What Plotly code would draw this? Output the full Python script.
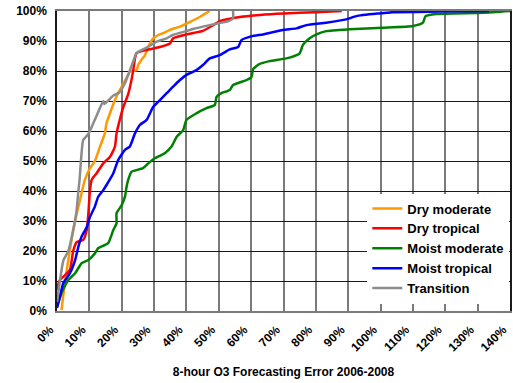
import plotly.graph_objects as go

# Cumulative share of forecasts (%) vs. absolute 8-hour O3 forecast error (%)
dry_moderate_x = [1.4, 2.5, 3.5, 4.5, 5.6, 7.1, 8.6, 10.2, 11.7, 13.3, 14.8, 15.3, 16.4, 17.9, 18.9,
                  20.0, 22.0, 22.5, 24.6, 25.1, 26.1, 27.2, 28.2, 29.7, 31.3, 32.8, 34.9, 38.0, 41.0,
                  44.1, 47.2]
dry_moderate_y = [0.3, 10.0, 17.0, 23.7, 30.0, 37.0, 43.7, 47.6, 50.0, 54.8, 59.3, 62.6, 66.0, 70.3, 72.6,
                  74.8, 78.7, 79.8, 80.3, 82.0, 83.7, 85.3, 88.0, 90.9, 92.0, 92.6, 93.7, 94.8, 96.3,
                  98.0, 100.0]

dry_tropical_x = [0.2, 0.4, 0.9, 2.5, 4.0, 5.0, 6.1, 8.1, 9.2, 9.7, 10.2, 10.7, 12.3, 14.3, 16.4, 17.9,
                  18.4, 19.4, 20.5, 22.0, 23.5, 24.1, 24.6, 27.7, 31.8, 34.9, 35.9, 40.0, 45.1, 48.3,
                  50.3, 53.4, 56.5, 62.7, 70.0, 80.0, 88.0]
dry_tropical_y = [7.0, 9.0, 10.3, 12.0, 13.7, 20.0, 23.0, 23.7, 27.0, 32.6, 40.3, 43.7, 46.0, 49.2, 51.4,
                  54.8, 59.2, 63.7, 68.0, 72.3, 79.8, 84.2, 86.0, 87.0, 88.0, 89.2, 90.9, 92.2, 93.4,
                  95.3, 96.6, 97.4, 98.0, 98.7, 99.2, 99.6, 100.0]

moist_moderate_x = [0.0, 1.4, 3.5, 5.6, 7.6, 9.7, 11.7, 12.7, 15.8, 17.4, 18.4, 18.4, 20.0, 21.0, 21.5,
                    22.0, 23.0, 26.6, 28.2, 30.2, 33.3, 35.4, 37.0, 39.0, 40.0, 43.1, 46.2, 48.8, 49.3,
                    50.8, 53.4, 54.4, 58.6, 60.1, 60.6, 62.5, 65.7, 70.9, 75.0, 76.0, 78.1, 80.2, 83.2,
                    90.4, 100.7, 110.0, 113.1, 113.9, 117.2, 131.6, 140.0]
moist_moderate_y = [1.4, 5.9, 10.3, 12.6, 15.9, 17.0, 19.2, 20.9, 22.6, 27.0, 29.2, 32.6, 35.3, 38.1, 41.4,
                    43.7, 46.4, 47.6, 49.2, 50.9, 52.6, 54.8, 58.1, 60.3, 63.7, 65.9, 67.6, 68.7, 71.4,
                    72.6, 73.7, 75.3, 77.0, 78.0, 80.6, 82.3, 83.3, 84.2, 85.9, 88.7, 90.9, 92.2, 93.3,
                    93.9, 94.4, 95.0, 96.1, 98.3, 99.0, 99.4, 100.0]

moist_tropical_x = [0.0, 0.9, 1.9, 4.0, 5.6, 6.6, 7.6, 9.2, 10.2, 11.7, 12.7, 14.3, 15.3, 17.4, 18.9,
                    21.0, 22.5, 24.1, 25.6, 27.7, 29.7, 31.8, 33.9, 35.9, 38.0, 40.0, 43.1, 45.1, 47.2,
                    50.3, 53.4, 56.0, 57.0, 60.6, 63.7, 69.8, 74.0, 77.1, 83.2, 89.4, 92.5, 99.7, 103.7,
                    118.0, 133.6]
moist_tropical_y = [1.0, 4.8, 9.2, 12.6, 17.0, 21.4, 24.8, 28.0, 31.4, 34.8, 38.0, 40.3, 42.0, 45.9, 50.3,
                    53.7, 54.8, 59.2, 62.0, 63.7, 68.0, 70.3, 72.6, 74.8, 77.0, 78.7, 80.3, 82.0, 84.2,
                    85.3, 87.2, 88.0, 90.3, 91.7, 92.2, 93.7, 94.2, 95.3, 96.1, 97.2, 98.3, 99.2, 99.6,
                    99.8, 100.0]

transition_x = [0.0, 0.9, 2.0, 3.5, 5.0, 6.0, 6.6, 7.0, 7.4, 8.1, 9.7, 12.2, 14.3, 14.6, 17.4, 19.4,
                21.0, 23.5, 24.6, 27.7, 30.8, 33.9, 35.8, 40.0, 42.0, 47.2, 53.0, 54.4, 54.4]
transition_y = [3.0, 10.0, 17.0, 20.0, 27.0, 33.0, 40.0, 44.0, 50.0, 57.0, 59.0, 65.0, 70.0, 69.0, 71.8,
                73.0, 76.0, 83.0, 86.0, 87.8, 89.8, 90.9, 92.0, 93.3, 94.0, 95.3, 96.6, 97.5, 100.0]

x_ticks = list(range(0, 141, 10))
x_tick_labels = [f"{v}%" for v in x_ticks]
y_ticks = list(range(0, 101, 10))
y_tick_labels = [f"{v}%" for v in y_ticks]

series = [
    ("Dry moderate", dry_moderate_x, dry_moderate_y, "#FF9900"),
    ("Dry tropical", dry_tropical_x, dry_tropical_y, "#FF0000"),
    ("Moist moderate", moist_moderate_x, moist_moderate_y, "#008000"),
    ("Moist tropical", moist_tropical_x, moist_tropical_y, "#0000FF"),
    ("Transition", transition_x, transition_y, "#8C8C8C"),
]

fig = go.Figure()
for name, xs, ys, color in series:
    fig.add_trace(go.Scatter(x=xs, y=ys, mode="lines", name=name,
                             line=dict(color=color, width=2.5, shape="spline", smoothing=0.5)))

font_family = "Liberation Sans, Arial, sans-serif"
bold = dict(family=font_family, size=12, color="black", weight="bold")

fig.update_layout(
    width=513, height=383,
    margin=dict(l=57, r=3, t=11, b=72),
    paper_bgcolor="white",
    plot_bgcolor="white",
    font=dict(family=font_family, size=12, color="black"),
    showlegend=True,
    legend=dict(
        x=0.685, y=0.025, xanchor="left", yanchor="bottom",
        bgcolor="white", borderwidth=0,
        font=dict(family=font_family, size=13, color="black", weight="bold"),
        itemwidth=30, tracegroupgap=0,
    ),
    xaxis=dict(
        range=[0, 140], tickvals=x_ticks, ticktext=x_tick_labels, tickangle=-45,
        showgrid=True, gridcolor="#7a7a7a", gridwidth=2,
        showline=True, linecolor="#7a7a7a", linewidth=2, mirror=True,
        ticks="", ticklabelstandoff=5, ticklabelshift=-7, ticklabeloverflow="allow",
        zeroline=False, automargin=False,
        tickfont=bold,
        title=dict(text="8-hour O3 Forecasting Error 2006-2008", standoff=14, font=bold),
    ),
    yaxis=dict(
        range=[0, 100], tickvals=y_ticks, ticktext=y_tick_labels,
        showgrid=True, gridcolor="#1a1a1a", gridwidth=1,
        showline=True, linecolor="#1a1a1a", linewidth=1.5, mirror=True,
        ticks="", ticklabelstandoff=6, zeroline=False, automargin=False,
        tickfont=bold,
    ),
)

fig.write_html("out.html")
